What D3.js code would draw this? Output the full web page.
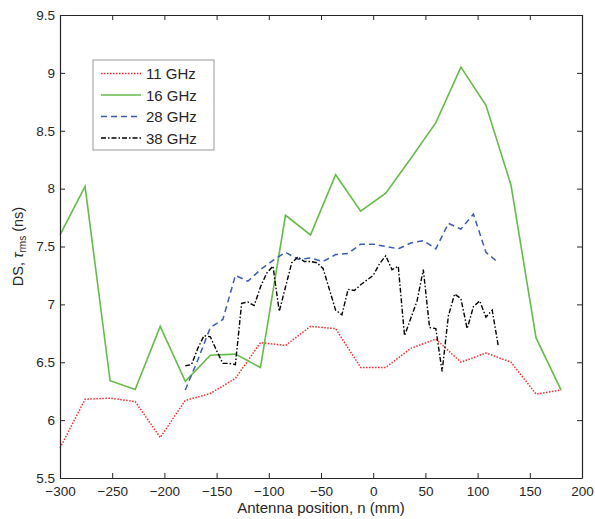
<!DOCTYPE html>
<html>
<head>
<meta charset="utf-8">
<script src="https://cdn.jsdelivr.net/npm/d3@7"></script>
<style>
  body { margin: 0; background: #fff; }
  text { font-family: "Liberation Sans", Arial, sans-serif; fill: #262626; }
</style>
</head>
<body>
<script>
// data
const x24 = [-300, -276, -252, -228, -204, -180, -156, -132, -108, -84, -60, -36, -12, 12, 36, 60, 84, 108, 132, 156, 180];
const ds11 = [5.76, 6.18, 6.19, 6.16, 5.85, 6.17, 6.23, 6.36, 6.67, 6.645, 6.81, 6.79, 6.455, 6.455, 6.62, 6.70, 6.50, 6.58, 6.50, 6.225, 6.26];
const ds16 = [7.6, 8.02, 6.34, 6.265, 6.81, 6.335, 6.56, 6.57, 6.455, 7.77, 7.6, 8.12, 7.805, 7.96, 8.26, 8.57, 9.05, 8.72, 8.03, 6.71, 6.26];

const x12 = [-180, -168, -156, -144, -132, -120, -108, -96, -84, -72, -60, -48, -36, -24, -12, 0, 12, 24, 36, 48, 60, 72, 84, 96, 108, 120];
const ds28 = [6.26, 6.52, 6.80, 6.87, 7.25, 7.20, 7.30, 7.38, 7.45, 7.39, 7.40, 7.37, 7.43, 7.44, 7.52, 7.52, 7.50, 7.48, 7.53, 7.55, 7.48, 7.70, 7.65, 7.78, 7.45, 7.36];

const x6 = d3.range(-180, 121, 6);
const ds38 = [6.47, 6.48, 6.62, 6.73, 6.72, 6.60, 6.49, 6.49, 6.48, 7.01, 7.02, 6.99, 7.15, 7.27, 7.33, 6.94, 7.15, 7.36, 7.41, 7.37,
              7.37, 7.36, 7.31, 7.13, 6.95, 6.91, 7.13, 7.12, 7.17, 7.21, 7.25, 7.35, 7.42, 7.30, 7.33, 6.73, 6.88, 7.03, 7.30, 6.80,
              6.79, 6.42, 6.90, 7.09, 7.05, 6.79, 6.98, 7.03, 6.89, 6.95, 6.63];

const xTicks = [-300, -250, -200, -150, -100, -50, 0, 50, 100, 150, 200];
const yTicks = [5.5, 6, 6.5, 7, 7.5, 8, 8.5, 9, 9.5];

const series = [
  { name: "11 GHz", xs: x24, ys: ds11, color: "#ff2a2a", dash: "1.5,1.5", width: 1.5 },
  { name: "16 GHz", xs: x24, ys: ds16, color: "#64bc46", dash: null, width: 1.6 },
  { name: "28 GHz", xs: x12, ys: ds28, color: "#3a5cb4", dash: "6,4", width: 1.5 },
  { name: "38 GHz", xs: x6, ys: ds38, color: "#000000", dash: "5,2,1.5,2", width: 1.4 }
];

const W = 595, H = 519;
const mLeft = 60, mRight = 582, mTop = 15, mBottom = 478;

const svg = d3.select("body").append("svg")
  .attr("width", W).attr("height", H);

const x = d3.scaleLinear().domain([-300, 200]).range([mLeft, mRight]);
const y = d3.scaleLinear().domain([5.5, 9.5]).range([mBottom, mTop]);

const line = d3.line();

series.forEach(s => {
  svg.append("path")
    .datum(s.xs.map((v, i) => [x(v), y(s.ys[i])]))
    .attr("d", line)
    .attr("fill", "none")
    .attr("stroke", s.color)
    .attr("stroke-width", s.width)
    .attr("stroke-dasharray", s.dash);
});

// axes with inward ticks, box all round
const tickLen = 5;
const gx = svg.append("g").attr("transform", `translate(0,${mBottom})`)
  .call(d3.axisBottom(x).tickValues(xTicks).tickSizeInner(-tickLen).tickSizeOuter(0).tickPadding(8));
const gxTop = svg.append("g").attr("transform", `translate(0,${mTop})`)
  .call(d3.axisTop(x).tickValues(xTicks).tickSizeInner(-tickLen).tickSizeOuter(0).tickFormat(""));
const gy = svg.append("g").attr("transform", `translate(${mLeft},0)`)
  .call(d3.axisLeft(y).tickValues(yTicks).tickSizeInner(-tickLen).tickSizeOuter(0).tickPadding(5).tickFormat(d3.format("")));
const gyR = svg.append("g").attr("transform", `translate(${mRight},0)`)
  .call(d3.axisRight(y).tickValues(yTicks).tickSizeInner(-tickLen).tickSizeOuter(0).tickFormat(""));

[gx, gxTop, gy, gyR].forEach(g => {
  g.selectAll(".domain").attr("stroke", "#262626").attr("stroke-width", 1.2);
  g.selectAll(".tick line").attr("stroke", "#262626");
  g.selectAll(".tick text").style("font-size", "13.5px").attr("fill", "#262626");
});

// axis titles
svg.append("text")
  .attr("x", (mLeft + mRight) / 2).attr("y", 513)
  .attr("text-anchor", "middle")
  .style("font-size", "15px")
  .text("Antenna position, n (mm)");

const yl = svg.append("text")
  .attr("transform", `translate(23,${(mTop + mBottom) / 2}) rotate(-90)`)
  .attr("text-anchor", "middle")
  .style("font-size", "14.5px");
yl.append("tspan").text("DS, ");
yl.append("tspan").style("font-style", "italic").text("τ");
yl.append("tspan").attr("dy", 3).style("font-size", "10px").text("rms");
yl.append("tspan").attr("dy", -3).text(" (ns)");

// legend
const lg = svg.append("g").attr("transform", "translate(93,60)");
lg.append("rect").attr("width", 121).attr("height", 90)
  .attr("fill", "#fff").attr("stroke", "#999").attr("stroke-width", 1);
series.forEach((s, i) => {
  const yy = 13.5 + i * 21.5;
  lg.append("line").attr("x1", 8).attr("x2", 48).attr("y1", yy).attr("y2", yy)
    .attr("stroke", s.color).attr("stroke-width", s.width).attr("stroke-dasharray", s.dash);
  lg.append("text").attr("x", 53).attr("y", yy + 5.5)
    .style("font-size", "15px").text(s.name);
});
</script>
</body>
</html>
